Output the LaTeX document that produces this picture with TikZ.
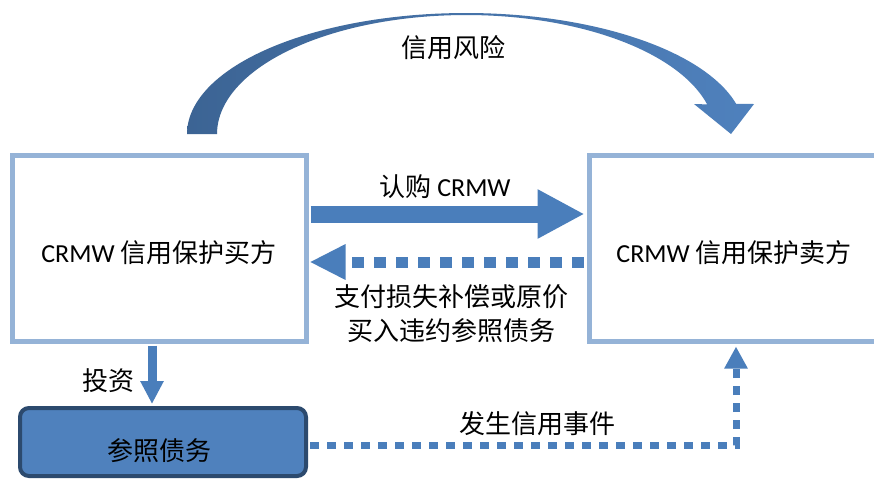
\documentclass[tikz,border=0pt]{standalone}
\usepackage{fontspec}
\setmainfont{Carlito}
\newfontfamily\cjk{Noto Sans CJK SC}
\usetikzlibrary{arrows.meta}
\definecolor{boxline}{HTML}{95B3D7}
\definecolor{arrowblue}{HTML}{4A7EBB}
\definecolor{refblue}{HTML}{4F81BD}
\definecolor{refline}{HTML}{2C4A6E}
\definecolor{curvedark}{HTML}{3C6494}
\begin{document}
\begin{tikzpicture}[x=1pt,y=-1pt,
  party/.style={draw=boxline,line width=5pt,minimum width=294pt,minimum height=186pt,inner sep=0pt},
  lbl/.style={font=\fontsize{26}{28}\selectfont,inner sep=0pt},
  solidarrow/.style={draw=arrowblue,line width=17pt,-{Triangle[length=47pt,width=46pt]}},
  backarrow/.style={draw=arrowblue,line width=11pt,dash pattern=on 12pt off 10pt,-{Triangle[length=36pt,width=33pt]}},
  eventarrow/.style={draw=arrowblue,line width=7pt,dash pattern=on 9pt off 8pt,-{Triangle[length=22pt,width=22pt]}},
  investarrow/.style={draw=arrowblue,line width=9pt,-{Triangle[length=23pt,width=22pt]}}
]
\useasboundingbox (0,0) rectangle (874,480);
\clip (0,0) rectangle (874,480);
\fill[white] (0,0) rectangle (874,480);

% curved arrow
\shade[left color=curvedark,right color=refblue]
  plot[domain=180:345.6,samples=90] ({466+279*cos(\x)},{134+121*sin(\x)})
  -- (754,104) -- (731,134) -- (694,104)
  -- plot[domain=345.6:180,samples=90] ({466+249*cos(\x)},{134+119*sin(\x)}) -- cycle;
\node[lbl] (risk) at (453,48) {\cjk 信用风险};

% boxes
\node[party] (buy) at (159,248) {};
\node[lbl] (buytext) at (159,253) {CRMW {\cjk 信用保护买方}};
\node[party,minimum width=290pt] (sell) at (734,248) {};
\node[lbl] (selltext) at (734,253) {CRMW {\cjk 信用保护卖方}};
\node[draw=refline,fill=refblue,line width=4pt,rounded corners=9pt,minimum width=286pt,minimum height=68pt] (ref) at (163,442) {};
\node[lbl] (reftext) at (159,451) {\cjk 参照债务};

% connectors
\draw[solidarrow,shorten <=2pt,shorten >=2pt] ([yshift=34pt]buy.east) -- ([yshift=34pt]sell.west);
\node[lbl] (subscribe) at (445,187) {{\cjk 认购} CRMW};

\draw[backarrow,shorten <=3pt,shorten >=1pt] ([yshift=-14pt]sell.west) -- ([yshift=-14pt]buy.east);
\node[lbl] (pay1) at (451,297) {\cjk 支付损失补偿或原价};
\node[lbl] (pay2) at (451,331) {\cjk 买入违约参照债务};

\draw[investarrow,shorten <=2pt,shorten >=2pt] ([xshift=-7pt]buy.south) -- ([xshift=-11pt]ref.north);
\node[lbl] (invest) at (108,381) {\cjk 投资};

\draw[eventarrow,shorten <=2pt,shorten >=3pt] ([yshift=-3pt]ref.east) -| ([xshift=2pt]sell.south);
\node[lbl] (event) at (537,424) {\cjk 发生信用事件};
\end{tikzpicture}
\end{document}
